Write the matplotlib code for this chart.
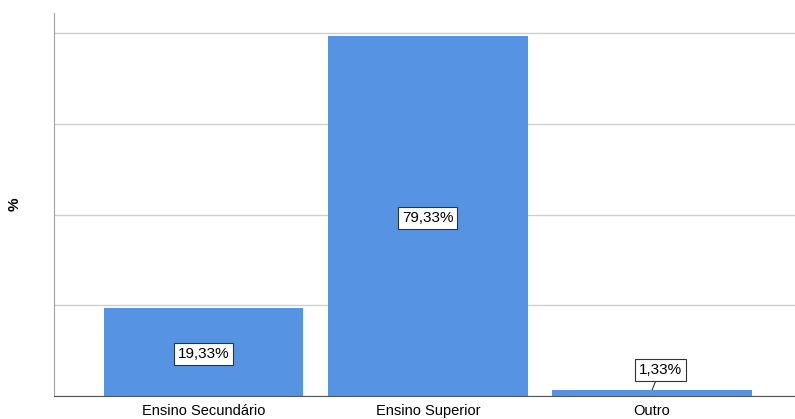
import matplotlib
matplotlib.use("Agg")
import matplotlib.pyplot as plt

categories = ["Ensino Secundário", "Ensino Superior", "Outro"]
values = [19.33, 79.33, 1.33]
labels = ["19,33%", "79,33%", "1,33%"]

bar_color = "#5694E3"
plt.rcParams["font.family"] = ["Liberation Sans", "DejaVu Sans"]

fig = plt.figure(figsize=(7.95, 4.19), dpi=100)
ax = fig.add_axes([54 / 795, 23 / 419, 1 - 54 / 795, (396 - 13) / 419])

x = list(range(len(categories)))
ax.bar(x, values, width=0.89, color=bar_color, zorder=2)

ax.set_xlim(-0.666, 2.637)
ax.set_ylim(0, 84.5)
ax.set_yticks([0, 20, 40, 60, 80])
ax.set_yticklabels([])
ax.yaxis.grid(True, color="#cfcfcf", linewidth=1.0, zorder=0)
ax.tick_params(axis="both", length=0)
ax.set_xticks(x)
ax.set_xticklabels(categories, fontsize=10.5)
ax.tick_params(axis="x", pad=6)

for s in ["top", "right"]:
    ax.spines[s].set_visible(False)
ax.spines["left"].set_color("#a0a0a0")
ax.spines["bottom"].set_color("#555555")

ax.set_ylabel("%", fontsize=11, fontweight="bold")
ax.yaxis.set_label_coords(-0.044, 0.5)

box = dict(boxstyle="square,pad=0.25", facecolor="white", edgecolor="#333333", linewidth=0.8)
for i, (v, lab) in enumerate(zip(values, labels)):
    if v > 10:
        ax.text(i, v / 2 - 0.4, lab, ha="center", va="center", fontsize=11, bbox=box, zorder=3)
    else:
        ax.annotate(lab, xy=(i, v), xytext=(i + 0.036, v + 4.4), ha="center", va="center",
                    fontsize=11, bbox=box, zorder=3,
                    arrowprops=dict(arrowstyle="-", color="#333333", linewidth=0.8,
                                    shrinkA=0, shrinkB=0))

fig.savefig("out.png", dpi=100)
